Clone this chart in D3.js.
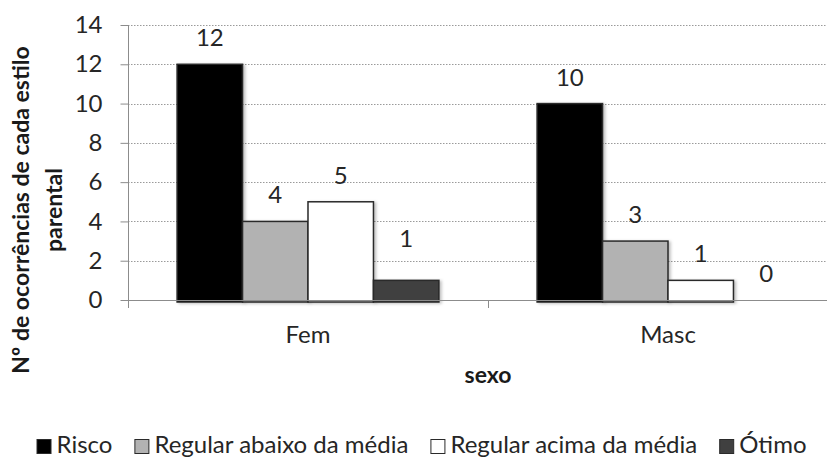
<!DOCTYPE html>
<html>
<head>
<meta charset="utf-8">
<script src="https://cdn.jsdelivr.net/npm/d3@7"></script>
<style>
  html, body { margin: 0; padding: 0; background: #fff; }
  svg { display: block; font-family: Lato, "Open Sans", sans-serif; }
</style>
</head>
<body>
<svg id="chart" width="827" height="459"></svg>
<script>
// Occurrences of each parenting style by sex
const categories = ["Fem", "Masc"];
const seriesNames = ["Risco", "Regular abaixo da média", "Regular acima da média", "Ótimo"];
const risco = [12, 10];
const regularAbaixo = [4, 3];
const regularAcima = [5, 1];
const otimo = [1, 0];
const yTicks = [0, 2, 4, 6, 8, 10, 12, 14];

const seriesValues = [risco, regularAbaixo, regularAcima, otimo];
const fills = ["#000000", "#b2b2b2", "#ffffff", "#404040"];

const svg = d3.select("#chart");
const plotLeft = 128, plotTop = 25, plotBottom = 300, plotRight = 848;

const y = d3.scaleLinear().domain([0, 14]).range([plotBottom, plotTop]);
const x0 = d3.scaleBand().domain(categories).range([plotLeft, plotRight]).paddingInner(0).paddingOuter(0);
const x1 = d3.scaleBand().domain(seriesNames).range([0, x0.bandwidth()]).paddingInner(0).paddingOuter(0.75);

const defs = svg.append("defs");
const f = defs.append("filter").attr("id", "shadow").attr("x", "-10%").attr("y", "-10%").attr("width", "130%").attr("height", "130%");
f.append("feDropShadow").attr("dx", 2).attr("dy", 1).attr("stdDeviation", 1.5).attr("flood-color", "#000").attr("flood-opacity", 0.25);

// dotted gridlines
svg.append("g").selectAll("line").data(yTicks.filter(d => d > 0)).join("line")
  .attr("x1", plotLeft).attr("x2", 827)
  .attr("y1", d => Math.round(y(d)) + 0.5).attr("y2", d => Math.round(y(d)) + 0.5)
  .attr("stroke", "#9a9a9a").attr("stroke-width", 1).attr("stroke-dasharray", "1.5,1.5");

// y axis
const yAxis = svg.append("g").attr("transform", `translate(${plotLeft + 0.5},0)`)
  .call(d3.axisLeft(y).tickValues(yTicks).tickSize(8).tickPadding(18).tickFormat(d3.format("d")));
yAxis.select(".domain").attr("stroke", "#8c8c8c").attr("d", `M0,${plotTop}V${plotBottom + 8}`);
yAxis.selectAll(".tick line").attr("stroke", "#8c8c8c");
yAxis.selectAll(".tick text").attr("font-size", 24).attr("fill", "#262626").attr("font-family", "Lato, sans-serif");

// bars (zero-valued bars are not drawn)
const groups = svg.append("g").selectAll("g").data(categories).join("g")
  .attr("transform", d => `translate(${x0(d)},0)`);

groups.selectAll("rect")
  .data((c, i) => seriesNames.map((s, j) => ({ s, v: seriesValues[j][i], fill: fills[j] })).filter(d => d.v > 0))
  .join("rect")
  .attr("x", d => x1(d.s))
  .attr("width", x1.bandwidth())
  .attr("y", d => y(d.v))
  .attr("height", d => y(0) - y(d.v) + 2)
  .attr("fill", d => d.fill)
  .attr("stroke", "#2a2a2a")
  .attr("stroke-width", 1.5)
  .attr("filter", "url(#shadow)");

// x axis baseline and ticks
const xAxis = svg.append("g").attr("transform", `translate(0,${plotBottom + 0.5})`)
  .call(d3.axisBottom(x0).tickSize(0).tickPadding(0).tickFormat(""));
xAxis.select(".domain").attr("stroke", "#8c8c8c").attr("d", `M${plotLeft},0H${plotRight}`);
svg.append("g").selectAll("line").data([plotLeft, plotLeft + x0.bandwidth(), plotRight]).join("line")
  .attr("x1", d => d + 0.5).attr("x2", d => d + 0.5)
  .attr("y1", plotBottom).attr("y2", plotBottom + 8)
  .attr("stroke", "#8c8c8c");

svg.append("g").selectAll("text").data(categories).join("text")
  .attr("x", d => x0(d) + x0.bandwidth() / 2)
  .attr("y", 343)
  .attr("text-anchor", "middle")
  .attr("font-size", 24).attr("fill", "#262626")
  .text(d => d);

// value labels above bars (the small Ótimo bar label sits a little higher)
const labelLift = [[18, 18, 18, 33], [18, 18, 18, 18]];
groups.selectAll("text.val")
  .data((c, i) => seriesNames.map((s, j) => ({ s, v: seriesValues[j][i], lift: labelLift[i][j] })))
  .join("text").attr("class", "val")
  .attr("x", d => x1(d.s) + x1.bandwidth() / 2)
  .attr("y", d => y(d.v) - d.lift)
  .attr("text-anchor", "middle")
  .attr("font-size", 24).attr("fill", "#262626")
  .text(d => d.v);

// axis titles
svg.append("text")
  .attr("x", 488).attr("y", 383)
  .attr("text-anchor", "middle")
  .attr("font-size", 23).attr("font-weight", "bold").attr("fill", "#1a1a1a")
  .text("sexo");

const yTitle = svg.append("text")
  .attr("transform", "translate(0,210) rotate(-90)")
  .attr("text-anchor", "middle")
  .attr("font-size", 23).attr("font-weight", "bold").attr("fill", "#1a1a1a");
yTitle.append("tspan").attr("x", 0).attr("y", 29).text("Nº de ocorrências de cada estilo");
yTitle.append("tspan").attr("x", 0).attr("y", 62).text("parental");

// legend
const legend = svg.append("g");
let lx = 0;
seriesNames.forEach((name, j) => {
  const item = legend.append("g").attr("transform", `translate(${lx},0)`);
  item.append("rect").attr("x", 0.5).attr("y", 439.5).attr("width", 14).attr("height", 14)
    .attr("fill", fills[j]).attr("stroke", "#2a2a2a").attr("stroke-width", 1);
  const t = item.append("text").attr("x", 20).attr("y", 453)
    .attr("font-size", 24).attr("fill", "#262626").text(name);
  lx += 20 + t.node().getComputedTextLength() + 22;
});
const legendWidth = lx - 22;
legend.attr("transform", `translate(${(827 - legendWidth) / 2 + 8},0)`);
</script>
</body>
</html>
